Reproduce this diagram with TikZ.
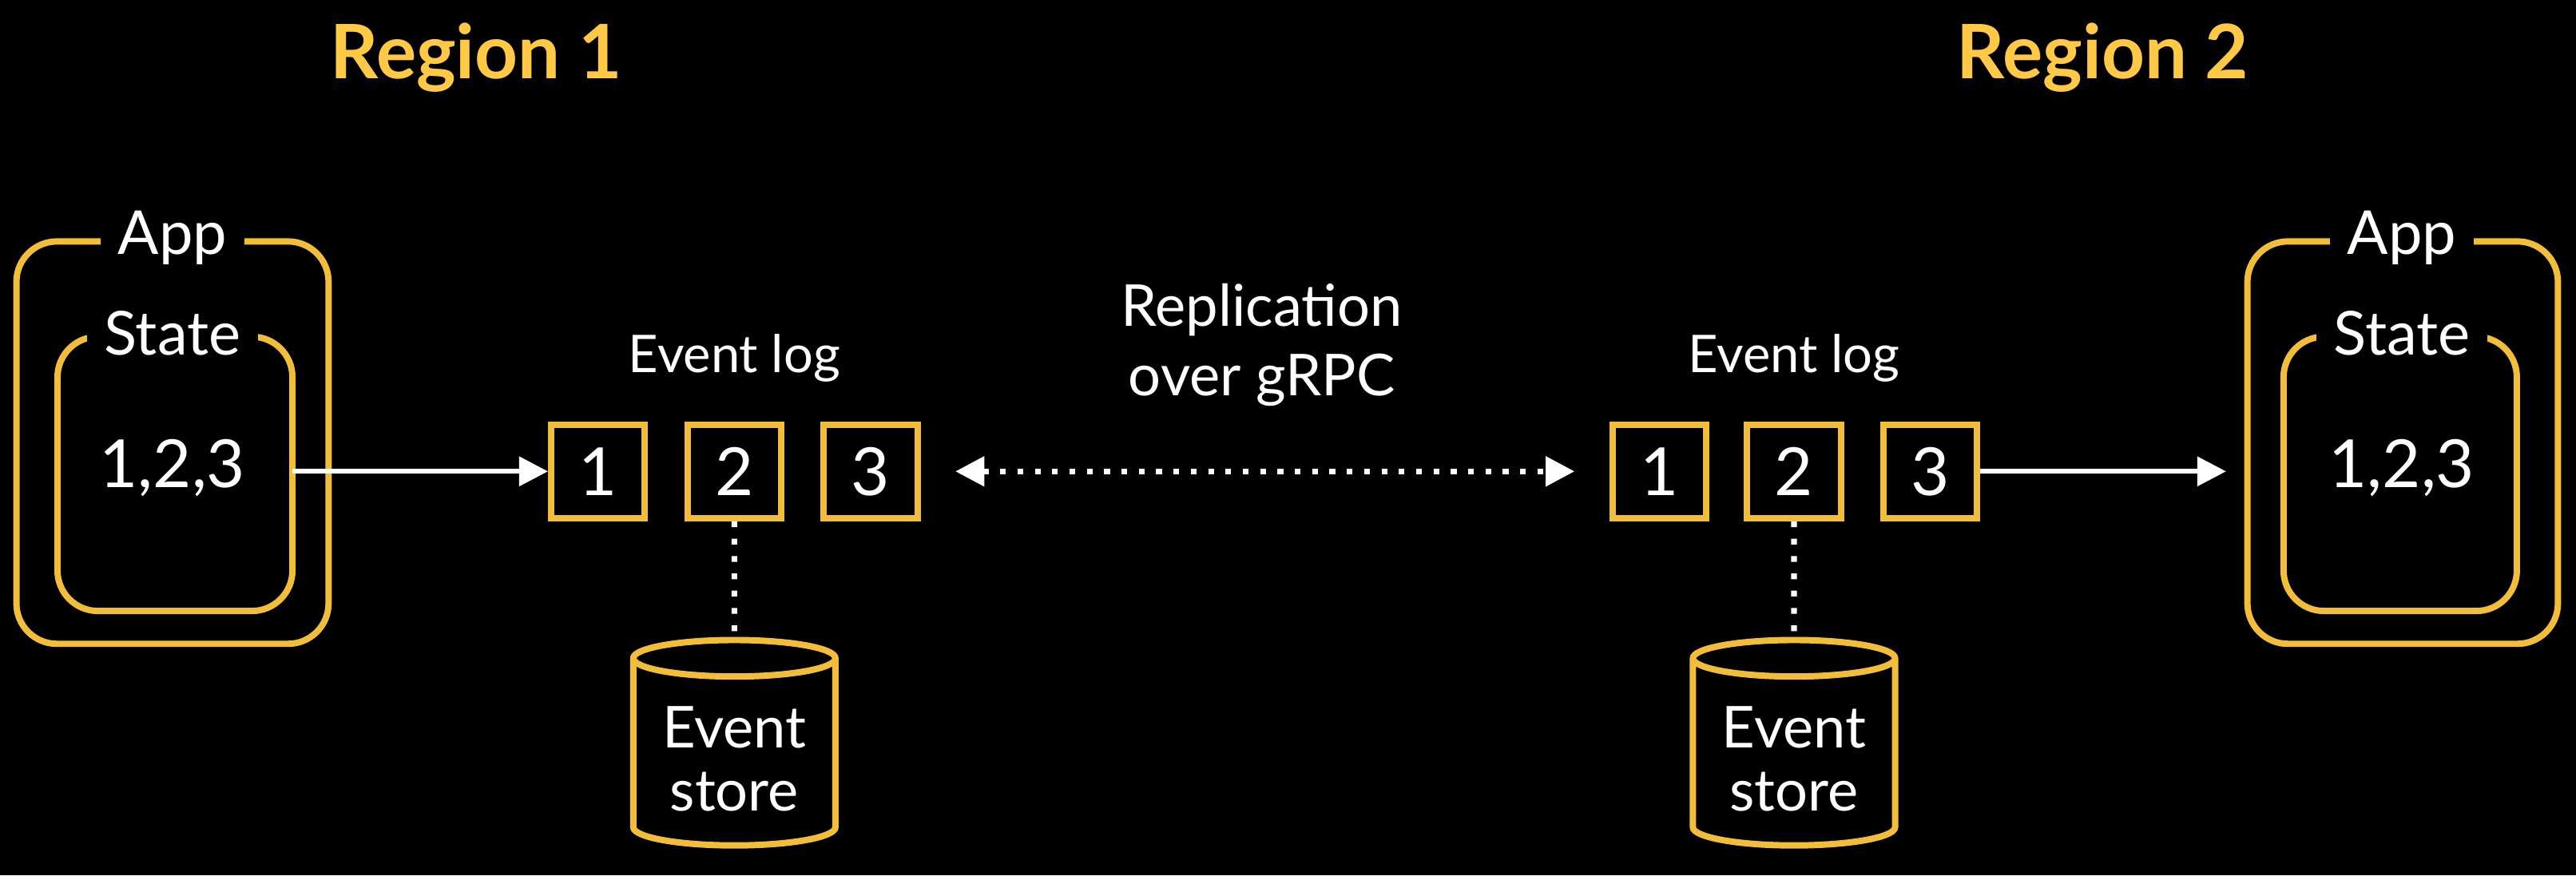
\documentclass[tikz,border=0pt]{standalone}
\usepackage{fontspec}
\setmainfont{Lato}
\usetikzlibrary{shapes.geometric,arrows.meta}
\definecolor{yel}{HTML}{F2BE3A}
\definecolor{ttl}{HTML}{FFC845}
\begin{document}
\begin{tikzpicture}[x=0.01cm,y=-0.01cm,
  box/.style={draw=yel,line width=1.1pt,rounded corners=7pt},
  lab/.style={fill=black,text=white,inner sep=3pt,font=\fontsize{10.5}{12}\selectfont},
  sq/.style={draw=yel,line width=1.1pt,minimum size=0.57cm,text=white,font=\fontsize{11.5}{13}\selectfont},
  txt/.style={text=white,font=\fontsize{9}{11}\selectfont,align=center},
  arr/.style={white,line width=0.8pt,-{Triangle[length=5pt,width=5pt]}},
  dot/.style={white,line width=1pt,dotted},
  cyl/.style={cylinder,shape border rotate=90,aspect=0.2,draw=yel,line width=1.1pt,minimum height=1.25cm,minimum width=1.23cm,text=white,align=center,font=\fontsize{10}{11}\selectfont},
  title/.style={text=ttl,font=\bfseries\fontsize{13}{15}\selectfont}]
\fill[black] (0,0) rectangle (1568,533);
\useasboundingbox (0,0) rectangle (1568,533);
\node[title] (r1) at (290,35) {Region 1};
\node[title] (r2) at (1280,35) {Region 2};
% left app
\draw[box] (10,147) rectangle (200,392);
\node[lab] (app1) at (105,145) {App};
\draw[box] (35,205) rectangle (178,372);
\node[lab] (st1) at (105,203) {State};
\node[txt,font=\fontsize{11.5}{13}\selectfont] (v1) at (105,285) {1,2,3};
\coordinate (a1) at (178,287);
% right app
\draw[box] (1368,147) rectangle (1557,392);
\node[lab] (app2) at (1462,145) {App};
\draw[box] (1390,205) rectangle (1532,372);
\node[lab] (st2) at (1462,203) {State};
\node[txt,font=\fontsize{11.5}{13}\selectfont] (v2) at (1462,285) {1,2,3};
\coordinate (a2) at (1355,287);
% logs
\node[txt] (el1) at (447,218) {Event log};
\node[sq] (l11) at (364,287) {1};
\node[sq] (l12) at (447,287) {2};
\node[sq] (l13) at (530,287) {3};
\node[txt] (el2) at (1092,218) {Event log};
\node[sq] (l21) at (1010,287) {1};
\node[sq] (l22) at (1092,287) {2};
\node[sq] (l23) at (1175,287) {3};
\node[cyl] (c1) at (447,462) {Event\\store};
\node[cyl] (c2) at (1092,462) {Event\\store};
\node[txt,font=\fontsize{10}{12}\selectfont] (rep) at (768,210) {Replication\\over gRPC};
\draw[arr] (a1) -- (l11);
\draw[arr] (l23) -- (a2);
\draw[dot] (l12) -- (c1);
\draw[dot] (l22) -- (c2);
\draw[dot,{Triangle[length=5pt,width=5pt]}-{Triangle[length=5pt,width=5pt]},shorten <=6pt,shorten >=6pt] (l13) -- (l21);
\end{tikzpicture}
\end{document}
